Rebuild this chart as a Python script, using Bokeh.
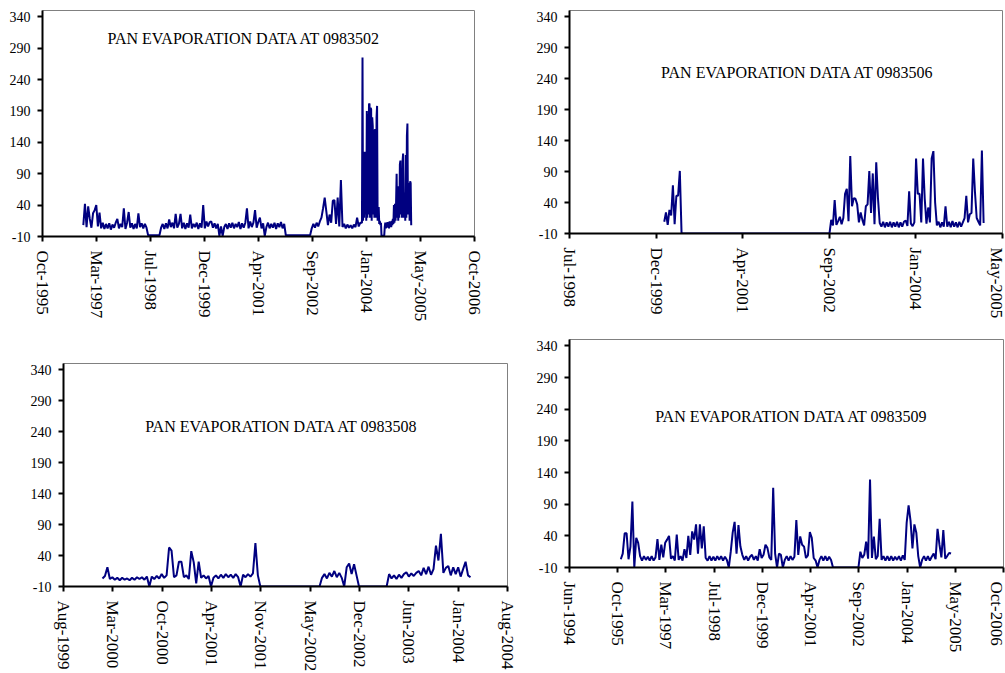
import numpy as np
import pandas as pd
from math import pi
from bokeh.plotting import figure
from bokeh.layouts import column, row
from bokeh.models import Range1d, FixedTicker, Label, ColumnDataSource
from bokeh.embed import file_html
from bokeh.resources import INLINE

# ---------------- data ----------------
Y_TICKS = [-10, 40, 90, 140, 190, 240, 290, 340]
Y_TICK_LABELS = ["-10", "40", "90", "140", "190", "240", "290", "340"]

P1_TITLE = "PAN EVAPORATION DATA AT 0983502"
P2_TITLE = "PAN EVAPORATION DATA AT 0983506"
P3_TITLE = "PAN EVAPORATION DATA AT 0983508"
P4_TITLE = "PAN EVAPORATION DATA AT 0983509"

P1_TICK_DATES = ["1995-10-28", "1997-03-11", "1998-07-24", "1999-12-06", "2001-04-19",
                 "2002-09-01", "2004-01-14", "2005-05-28", "2006-10-10"]
P1_TICK_LABELS = ["Oct-1995", "Mar-1997", "Jul-1998", "Dec-1999", "Apr-2001",
                  "Sep-2002", "Jan-2004", "May-2005", "Oct-2006"]
P2_TICK_DATES = ["1998-07-24", "1999-12-06", "2001-04-19", "2002-09-01", "2004-01-14", "2005-05-28"]
P2_TICK_LABELS = ["Jul-1998", "Dec-1999", "Apr-2001", "Sep-2002", "Jan-2004", "May-2005"]
P3_TICK_DATES = ["1999-08-28", "2000-03-15", "2000-10-01", "2001-04-19", "2001-11-05",
                 "2002-05-24", "2002-12-10", "2003-06-28", "2004-01-14", "2004-08-01"]
P3_TICK_LABELS = ["Aug-1999", "Mar-2000", "Oct-2000", "Apr-2001", "Nov-2001",
                  "May-2002", "Dec-2002", "Jun-2003", "Jan-2004", "Aug-2004"]
P4_TICK_DATES = ["1994-06-15", "1995-10-28", "1997-03-11", "1998-07-24", "1999-12-06",
                 "2001-04-19", "2002-09-01", "2004-01-14", "2005-05-28", "2006-10-10"]
P4_TICK_LABELS = ["Jun-1994", "Oct-1995", "Mar-1997", "Jul-1998", "Dec-1999",
                  "Apr-2001", "Sep-2002", "Jan-2004", "May-2005", "Oct-2006"]

# Station 0983502 : three runs of readings (start date, spacing in days)
P1_STARTS = ["1996-11-09", "2003-12-03", "2004-05-22"]
P1_STEPS = [15, 5, 5]
P1_A = [8, 42, 5, 38, 18, 4, 27, 32, 40, 6, 28, 3, 12, 2, 10, 3, 11, 1, 9, 4,
        12, 18, 3, 10, 5, 35, 2, 12, 29, 4, 11, 2, 10, 3, 27, 5, 11, 3, 10, 4,
        -8, -8, -8, -8, -8, -8, -8, -8,
        4, 10, 2, 11, 3, 17, 5, 12, 3, 26, 4, 10, 26, 3, 12, 2, 11, 4, 25, 3,
        10, 5, 12, 2, 11, 4, 40, 3, 14, 6, 13, 14, 4, 11, 3, 10,
        -9, 6, -9, 5, 10, 2, 11, 4, 12, 3, 10, 5, 13, 2, 11, 4, 12, 35, 3, 14,
        5, 12, 32, 4, 13, 20, 3, 11, -9, 5, 12, 3, 10, 4, 12, 2, 11, 5, 13, 3, 10,
        -8, -8, -8, -8, -8, -8, -8, -8, -8, -8, -8, -8, -8, -8, -8, -8,
        3, 10, 4, 12, 6, 14, 20, 35, 52, 30, 8, 25, 12, 47, 48, 10, 52, 6, 80, 5,
        10, 3, 9, 4, 8, 3, 9, 5, 20, 6, 12]
P1_B = [12, 275, 15, 125, 20, 125, 25, 125, 15, 190, 20, 185, 25, 200, 202, 20, 195,
        193, 15, 180, 166, 25, 160, 20, 161, 158, 20, 180, 198, 15, 30, 37, 10, 15]
P1_C = [8, 12, -9, -9, -9, -9, -9, -9, 5, 12, 3, 10, 4, 13, 5, 12, 3, 14, 6, 12,
        5, 15, 8, 18, 10, 40, 12, 42, 15, 45, 90, 20, 70, 15, 66, 20, 105, 111, 25, 95,
        20, 110, 122, 20, 55, 60, 15, 120, 20, 150, 170, 25, 70, 75, 15, 78, 75, 8]

# Station 0983506 : readings every 10 days
P2_STARTS = ["2000-01-22", "2002-09-02"]
P2_STEPS = [10, 10]
P2_A = [9, 24, 4, 28, 19, 68, 5, 51, 51, 91, -10]
P2_B = [-10, 12, 3, 44, 4, 10, 17, 5, 15, 54, 62, 10, 115, 34, 47, 46, 37, 8, 24, 12,
        3, 34, 37, 91, 23, 87, 5, 105, 47, 7, 1, 9, 0, 8, 1, 9, 0, 8, 1, 9,
        0, 8, 1, 9, 11, 2, 58, 6, 2, 8, 111, 54, 54, 8, 111, 46, 6, 32, 8, 111,
        123, 40, 3, 9, 0, 8, 1, 34, 1, 9, 0, 10, 1, 8, 0, 9, 1, 8, 15, 51,
        8, 21, 23, 111, 57, 15, 9, 3, 124, 7]

# Station 0983508 : readings every 10 days
P3_STARTS = ["2000-02-02", "2002-07-01", "2003-03-30"]
P3_STEPS = [10, 10, 10]
P3_A = [3, 7, 21, 2, 5, 1, 4, 0, 4, 1, 3, 0, 4, 1, 5, 2, 5, 1, 6, -10,
        6, 2, 7, 3, 10, 4, 8, 53, 48, 5, 8, 30, 30, 5, 8, 2, 47, 29, -5, 30,
        4, 8, 3, 7, -10, 4, 8, 3, 9, 4, 10, 5, 9, 4, 10, 5, -10, 9, 5, 10,
        6, 11, 60, 8, -10]
P3_B = [-10, 4, 10, 3, 12, 6, 15, 5, 12, 4, -10, 21, 27, 10, 26, 8, -10]
P3_C = [-10, 10, 3, 8, 2, 9, 4, 10, 13, 6, 11, 7, 12, 15, 8, 20, 10, 22, 9, 18,
        56, 32, 75, 12, 20, 23, 8, 21, 10, 21, 6, 18, 30, 8, 5]

# Station 0983509 : readings every 20 days
P4_STARTS = ["1995-11-29", "2002-08-28"]
P4_STEPS = [20, 20]
P4_A = [3, 12, 44, 44, 3, 23, 94, -10, 37, 29, 8, 1, 8, 2, 7, 1, 8, 1, 6, 35,
        2, 26, 6, 29, 34, 40, 4, 8, 1, 42, 2, 8, 1, 19, 5, 40, 10, 47, 34, 58,
        12, 58, 20, 55, 5, 1, 8, 1, 7, 1, 8, 2, 8, 1, 7, 2, -10, 15, 45, 62,
        12, 57, 23, 10, 2, 8, 1, 7, 10, 2, 8, 1, 19, 5, 10, 26, 21, 6, 2, 116,
        12, -10, 12, 10, -10, 2, 8, 1, 8, 2, 7, 65, 10, 39, 26, 23, 5, 9, 46, 37,
        5, 1, -10, 2, 8, 1, 8, 1, 7, 2, -10]
P4_B = [-10, 15, 5, 10, 31, 4, 129, 5, 39, 3, 8, 67, 2, 8, 1, 8, 1, 8, 1, 7,
        2, 8, 1, 9, 2, 61, 88, 64, 20, 58, 45, 8, -10, 2, 8, 1, 8, 1, 7, 12,
        3, 51, 26, 6, 49, 4, 8, 13, 12]

# ---------------- styling ----------------
FONT = "Liberation Serif"
LINE_COLOR = "#000080"


def ms(d):
    return int(pd.Timestamp(d).value // 10**6)


def build_series(starts, steps, segments):
    xs, ys = [], []
    for s, step, vals in zip(starts, steps, segments):
        d0 = pd.Timestamp(s)
        xs.extend([d0 + pd.Timedelta(days=step * i) for i in range(len(vals))])
        ys.extend(vals)
    return ColumnDataSource(dict(x=xs, y=ys))


def make_panel(starts, steps, segments, tick_dates, tick_labels, title,
               title_date, title_value, fw, fh, bl, br, bt, bb):
    x0, x1 = ms(tick_dates[0]), ms(tick_dates[-1])
    p = figure(x_axis_type="datetime", frame_width=fw, frame_height=fh,
               min_border_left=bl, min_border_right=br, min_border_top=bt, min_border_bottom=bb,
               x_range=Range1d(x0, x1), y_range=Range1d(-10, 350),
               toolbar_location=None, output_backend="svg")
    p.background_fill_color = "white"
    p.border_fill_color = "white"
    p.outline_line_color = "#808080"
    p.outline_line_width = 1
    p.xgrid.grid_line_color = None
    p.ygrid.grid_line_color = None

    src = build_series(starts, steps, segments)
    p.line("x", "y", source=src, line_color=LINE_COLOR, line_width=2)

    ticks = [ms(d) for d in tick_dates]
    p.xaxis.ticker = FixedTicker(ticks=ticks)
    p.xaxis.major_label_overrides = {t: lab for t, lab in zip(ticks, tick_labels)}
    p.xaxis.major_label_orientation = -pi / 2
    p.yaxis.ticker = FixedTicker(ticks=Y_TICKS)
    p.yaxis.major_label_overrides = {t: lab for t, lab in zip(Y_TICKS, Y_TICK_LABELS)}

    p.axis.axis_line_color = "black"
    p.axis.axis_line_width = 2
    p.axis.major_tick_line_color = "black"
    p.axis.major_tick_line_width = 2
    p.axis.major_tick_out = 5
    p.axis.major_tick_in = 0
    p.axis.minor_tick_line_color = None
    p.axis.major_label_text_font = FONT
    p.axis.major_label_text_color = "black"
    p.xaxis.major_label_text_font_size = "17px"
    p.xaxis.major_label_standoff = 9
    p.yaxis.major_label_text_font_size = "14px"
    p.yaxis.major_label_standoff = 7

    p.add_layout(Label(x=ms(title_date), y=title_value, text=title, text_font=FONT,
                       text_font_size="16px", text_color="black",
                       text_align="left", text_baseline="middle"))
    return p


# frame sizes and borders chosen so the page (no body margin) spans 1005 x 673
p1 = make_panel(P1_STARTS, P1_STEPS, [P1_A, P1_B, P1_C], P1_TICK_DATES, P1_TICK_LABELS, P1_TITLE,
                "1997-06-21", 305, 432, 226, 42, 56, 10, 94)
p2 = make_panel(P2_STARTS, P2_STEPS, [P2_A, P2_B], P2_TICK_DATES, P2_TICK_LABELS, P2_TITLE,
                "2000-01-04", 250, 433, 223, 39, 3, 10, 97)
p3 = make_panel(P3_STARTS, P3_STEPS, [P3_A, P3_B, P3_C], P3_TICK_DATES, P3_TICK_LABELS, P3_TITLE,
                "2000-07-24", 248, 444, 223, 63, 23, 33, 86)
p4 = make_panel(P4_STARTS, P4_STEPS, [P4_A, P4_B], P4_TICK_DATES, P4_TICK_LABELS, P4_TITLE,
                "1996-11-19", 228, 434, 228, 39, 2, 9, 105)

layout = column(row(column(p1), column(p2)), row(column(p3), column(p4)))
open("out.html", "w").write(file_html(layout, INLINE))
